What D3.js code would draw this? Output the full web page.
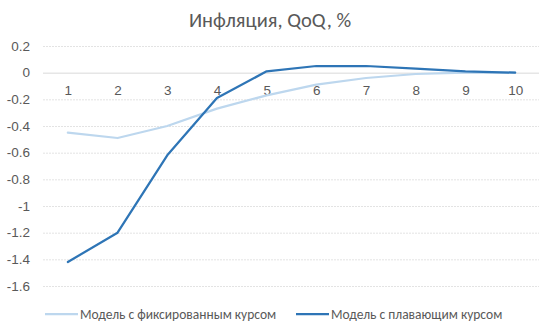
<!DOCTYPE html>
<html>
<head>
<meta charset="utf-8">
<script src="https://cdn.jsdelivr.net/npm/d3@7"></script>
<style>
  html, body { margin: 0; padding: 0; background: #fff; }
  svg { display: block; font-family: Calibri, Carlito, "Open Sans", "DejaVu Sans", sans-serif; }
</style>
</head>
<body>
<svg id="chart" width="539" height="322"></svg>
<script>
// Quarters after the shock
const quarters = [1, 2, 3, 4, 5, 6, 7, 8, 9, 10];
// Quarterly inflation response, %
const fixedRate    = [-0.45, -0.49, -0.40, -0.27, -0.17, -0.09, -0.04, -0.01, 0.00, 0.00];
const floatingRate = [-1.42, -1.20, -0.62, -0.19, 0.01, 0.05, 0.05, 0.03, 0.01, 0.00];
const yTicks = [0.2, 0, -0.2, -0.4, -0.6, -0.8, -1, -1.2, -1.4, -1.6];
const seriesNames = ["Модель с фиксированным курсом", "Модель с плавающим курсом"];
const seriesColors = ["#BDD7EE", "#2E75B6"];

const svg = d3.select("#chart");
const plotLeft = 43, plotRight = 540, plotTop = 46, plotBottom = 286;

const x = d3.scalePoint().domain(quarters).range([plotLeft, plotRight]).padding(0.5);
const y = d3.scaleLinear().domain([-1.6, 0.2]).range([plotBottom, plotTop]);

// Title
svg.append("text")
  .attr("x", 270).attr("y", 27)
  .attr("text-anchor", "middle")
  .attr("font-size", 20.5)
  .attr("fill", "#595959")
  .text("Инфляция, QoQ, %");

// Horizontal gridlines and value labels
const yAxis = d3.axisLeft(y).tickValues(yTicks).tickSize(-(plotRight - plotLeft))
  .tickFormat(d => String(d));
const gy = svg.append("g").attr("transform", `translate(${plotLeft},0)`).call(yAxis);
gy.select(".domain").remove();
gy.selectAll(".tick line")
  .attr("stroke", d => d === 0 ? "#D9D9D9" : "#E3E3E3")
  .attr("stroke-width", 1)
  .attr("stroke-dasharray", d => d === 0 ? null : "2,1");
gy.selectAll(".tick text")
  .attr("x", -13)
  .attr("font-size", 13.5)
  .attr("fill", "#595959")
  .attr("font-family", "inherit");

// Category axis sits on the zero line
const xAxis = d3.axisBottom(x).tickSize(0).tickPadding(13);
const gx = svg.append("g").attr("transform", `translate(0,${y(0)})`).call(xAxis);
gx.select(".domain").remove();
gx.selectAll(".tick text")
  .attr("font-size", 13.5)
  .attr("fill", "#595959")
  .attr("font-family", "inherit");

// Series lines
const line = d3.line().x((d, i) => x(quarters[i])).y(d => y(d));
[fixedRate, floatingRate].forEach((series, k) => {
  svg.append("path")
    .datum(series)
    .attr("fill", "none")
    .attr("stroke", seriesColors[k])
    .attr("stroke-width", 2.25)
    .attr("stroke-linejoin", "round")
    .attr("stroke-linecap", "round")
    .attr("d", line);
});

// Legend
const legendX = [45, 296];
legendX.forEach((lx, k) => {
  const g = svg.append("g").attr("transform", `translate(${lx},314)`);
  g.append("line").attr("x1", 0).attr("x2", 33).attr("y1", 0).attr("y2", 0)
    .attr("stroke", seriesColors[k]).attr("stroke-width", 2.25);
  g.append("text").attr("x", 35).attr("y", 4.5)
    .attr("font-size", 13.5).attr("fill", "#595959")
    .text(seriesNames[k]);
});
</script>
</body>
</html>
